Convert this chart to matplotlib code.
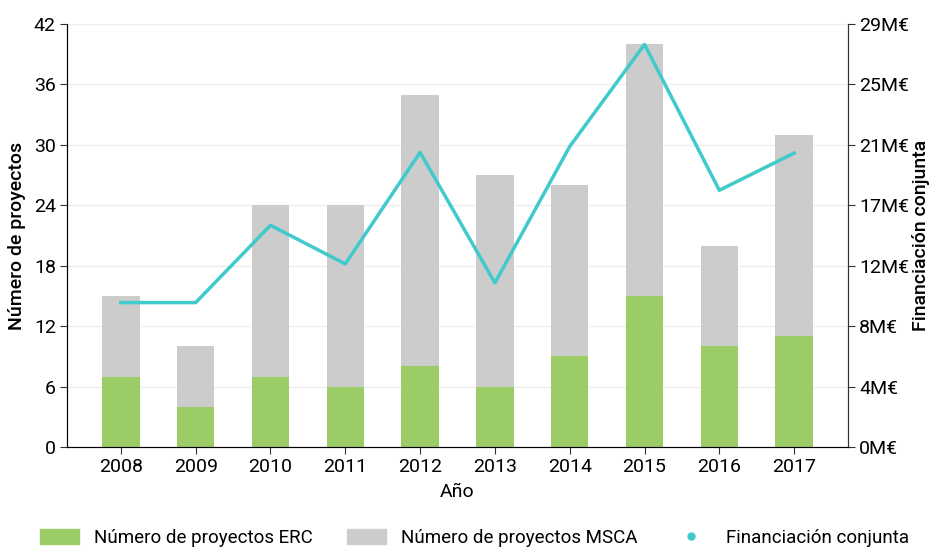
import numpy as np
import matplotlib
matplotlib.use("Agg")
import matplotlib.pyplot as plt
from matplotlib.lines import Line2D
from matplotlib.patches import Patch

plt.rcParams['font.family'] = ['Roboto', 'DejaVu Sans']

# datos
years = ['2008', '2009', '2010', '2011', '2012', '2013', '2014', '2015', '2016', '2017']
erc = [7, 4, 7, 6, 8, 6, 9, 15, 10, 11]
msca = [8, 6, 17, 18, 27, 21, 17, 25, 10, 20]
funding = [9.9, 9.9, 15.2, 12.55, 20.2, 11.25, 20.6, 27.6, 17.6, 20.15]  # M€

green = '#9ccc65'
grey = '#cccccc'
teal = '#40cacb'

fig = plt.figure(figsize=(9.3, 5.5), dpi=100)
ax = fig.add_axes([67/930, 1 - 447/550, (848-67)/930, (447-24)/550])
x = np.arange(len(years))

ax.bar(x, erc, width=0.5, color=green, zorder=2)
ax.bar(x, msca, width=0.5, bottom=erc, color=grey, zorder=2)
ax.set_ylim(0, 42)
ax.set_yticks(np.arange(0, 43, 6))
ax.set_xlim(-0.72, 9.72)
ax.set_xticks(x)
ax.set_xticklabels(years)
ax.grid(axis='y', color='#eeeeee', linewidth=1, zorder=0)
ax.set_axisbelow(True)
ax.spines['top'].set_visible(False)
for s in ['left', 'right', 'bottom']:
    ax.spines[s].set_color('#333333')
ax.tick_params(labelsize=14, color='#333333', length=5, pad=3)
ax.set_xlabel('Año', fontsize=14, labelpad=5)
ax.set_ylabel('Número de proyectos', fontsize=14, fontweight='medium', labelpad=6)

ax2 = ax.twinx()
ax2.plot(x, funding, color=teal, linewidth=2.5, zorder=3)
ax2.set_ylim(0, 29)
rt = np.linspace(0, 29, 8)
ax2.set_yticks(rt)
ax2.set_yticklabels(['%dM€' % round(v) for v in rt])
ax2.spines['top'].set_visible(False)
ax2.spines['right'].set_color('#333333')
ax2.tick_params(labelsize=14, color='#333333', length=5, pad=3)
ax2.set_ylabel('Financiación conjunta', fontsize=14, fontweight='medium', labelpad=2)

handles = [Patch(color=green), Patch(color=grey),
           Line2D([], [], color=teal, marker='o', linestyle='none', markersize=5)]
labels = ['Número de proyectos ERC', 'Número de proyectos MSCA', 'Financiación conjunta']
fig.legend(handles, labels, loc='lower center', bbox_to_anchor=(0.51, -0.025), ncol=3,
           frameon=False, fontsize=13.5, handlelength=2.1, handleheight=0.9,
           handletextpad=0.8, columnspacing=1.8)

fig.savefig('out.png', dpi=100)
